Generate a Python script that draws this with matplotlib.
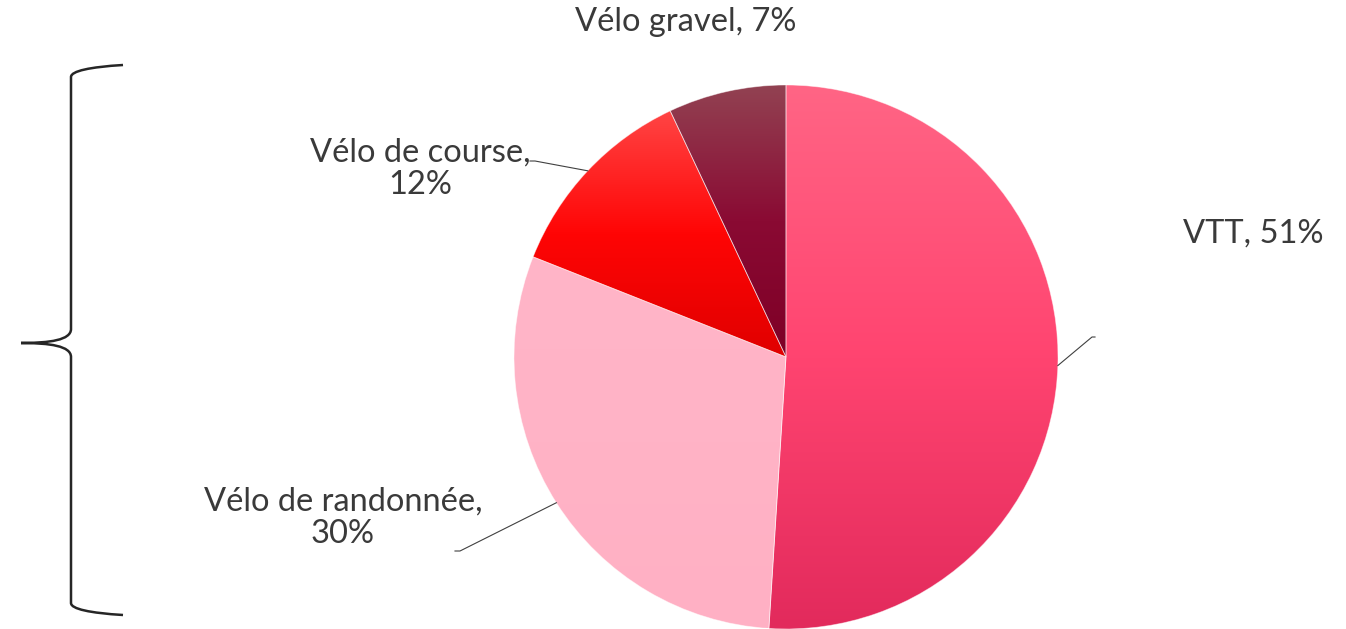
import numpy as np
import matplotlib.pyplot as plt
from matplotlib.colors import LinearSegmentedColormap
from matplotlib.path import Path
import matplotlib.patches as mpatches

# data
labels = ['VTT', 'Vélo de randonnée', 'Vélo de course', 'Vélo gravel']
shares = [51, 30, 12, 7]
# gradient stops, top -> bottom of each slice
grad_colors = [
    ['#FF6585', '#FF4470', '#E22A5C'],
    ['#FFB5C8', '#FFB3C6', '#FFB0C4'],
    ['#FF4545', '#FF0505', '#E00000'],
    ['#924252', '#8A0A33', '#7E0026'],
]
label_texts = ['VTT, 51%', 'Vélo de randonnée,\n30%', 'Vélo de course,\n12%', 'Vélo gravel, 7%']

W, H = 1346, 629
plt.rcParams['font.family'] = ['Lato', 'DejaVu Sans']

fig = plt.figure(figsize=(W / 100, H / 100), dpi=100)
ax = fig.add_axes([0, 0, 1, 1])

cx, cy, r = 786, H - 357, 272

wedges, _ = ax.pie(shares, center=(cx, cy), radius=r, startangle=90,
                   counterclock=False, frame=True,
                   wedgeprops=dict(linewidth=0.6, edgecolor=(1, 1, 1, 0.5)))
ax.set_xlim(0, W)
ax.set_ylim(0, H)
ax.set_aspect('equal')
ax.axis('off')

grad = np.linspace(1, 0, 256).reshape(-1, 1)
for w, cols in zip(wedges, grad_colors):
    w.set_facecolor('none')
    # bounding box of the wedge in data coords
    verts = w.get_patch_transform().transform(w.get_path().vertices)
    x0, y0 = verts.min(axis=0)
    x1, y1 = verts.max(axis=0)
    cmap = LinearSegmentedColormap.from_list('g', cols[::-1])
    im = ax.imshow(grad, cmap=cmap, extent=(x0, x1, y0, y1), origin='upper',
                   aspect='auto', zorder=1, interpolation='bicubic')
    im.set_clip_path(w)
    w.set_zorder(2)

txt = dict(color='#3a3a3a', fontsize=23.5, ha='center', va='center', linespacing=1.1)

# label anchors (image px), leader elbows
label_pos = [(1253, 234), (343, 518), (420, 169), (686, 22)]
elbows = [[(1092, 337), (1095, 337)], [(460, 551), (455, 551)],
          [(535, 161), (530, 161)], None]

cum = 0
for i, (w, s) in enumerate(zip(wedges, shares)):
    mid = np.deg2rad(90 - (cum + s / 2) * 3.6)
    cum += s
    lx, ly = label_pos[i]
    ax.text(lx, H - ly, label_texts[i], **txt)
    if elbows[i] is not None:
        px = cx + r * np.cos(mid)
        py = cy + r * np.sin(mid)
        xs = [px] + [e[0] for e in elbows[i]]
        ys = [py] + [H - e[1] for e in elbows[i]]
        ax.plot(xs, ys, color='#404040', lw=0.8, zorder=3)

# curly brace on the left
bx, tipx, endx = 71, 21, 123
ytop, ymid, ybot = H - 65, H - 343, H - 615
verts = [
    (endx, ytop), (90, ytop - 2), (bx, ytop - 6), (bx, ytop - 12),
    (bx, ymid + 14),
    (bx, ymid + 3), (50, ymid), (tipx, ymid),
    (50, ymid), (bx, ymid - 3), (bx, ymid - 14),
    (bx, ybot + 12),
    (bx, ybot + 6), (90, ybot + 2), (endx, ybot),
]
codes = [Path.MOVETO, Path.CURVE4, Path.CURVE4, Path.CURVE4,
         Path.LINETO,
         Path.CURVE4, Path.CURVE4, Path.CURVE4,
         Path.CURVE4, Path.CURVE4, Path.CURVE4,
         Path.LINETO,
         Path.CURVE4, Path.CURVE4, Path.CURVE4]
ax.add_patch(mpatches.PathPatch(Path(verts, codes), fill=False,
                                edgecolor='#262626', lw=1.8, zorder=3))

fig.savefig('out.png', dpi=100)
